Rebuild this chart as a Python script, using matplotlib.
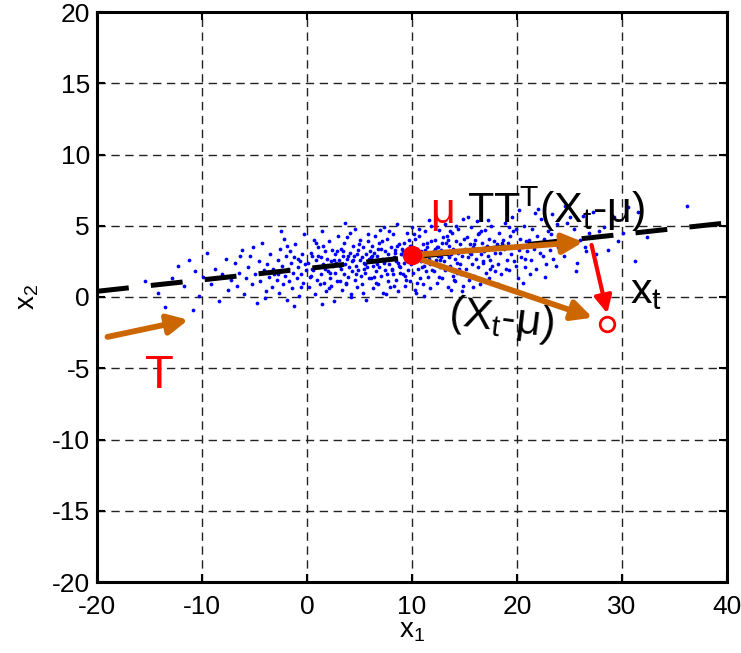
import matplotlib.pyplot as plt

plt.rcParams["font.family"] = ["Liberation Sans Narrow", "Liberation Sans", "DejaVu Sans"]
plt.rcParams["mathtext.fontset"] = "custom"
plt.rcParams["mathtext.rm"] = "Liberation Sans"
plt.rcParams["mathtext.it"] = "Liberation Sans"
plt.rcParams["mathtext.default"] = "regular"
plt.rcParams["lines.scale_dashes"] = False
plt.rcParams["axes.unicode_minus"] = False

# sample cloud (x1, x2), estimated from the picture band by band along x1
cloud = [
    (-15.4, 1.1), (-14.2, 0.3), (-13.5, -0.7), (-12.9, 1.3), (-12.3, 2.2),
    (-11.7, 0.8), (-11.2, 2.6), (-10.7, 1.8), (-10.3, 0.1), (-9.9, 1.4), (-9.5, 3.1), (-9.1, 0.9),
    (-8.8, 2.0), (-8.4, -0.3), (-8.1, 1.6), (-7.7, 2.7), (-7.5, 0.5), (-7.2, 1.2), (-10.9, -0.9),
    (-6.9, 2.4), (-6.7, 0.8), (-6.5, 1.7), (-6.2, 3.3), (-6.0, 0.2), (-5.8, 1.3), (-5.6, 2.1),
    (-5.4, 2.9), (-5.2, 0.9), (-5.0, 1.6), (-4.8, -0.4), (-4.6, 2.5), (-4.5, 1.1), (-4.3, 3.8),
    (-4.1, 1.9), (-3.9, 0.4), (-3.8, 2.3), (-3.6, 1.4), (-3.5, 3.0), (-3.3, 0.7), (-3.2, 2.0),
    (-3.1, 1.6), (-6.4, 2.9), (-5.1, 3.5), (-4.0, -0.1),
    (-2.9, 1.2), (-2.8, 2.6), (-2.7, 0.3), (-2.6, 3.4), (-2.5, 1.8), (-2.4, 2.2), (-2.3, 0.9),
    (-2.2, 4.1), (-2.1, 1.5), (-2.0, 2.9), (-1.9, -0.2), (-1.8, 2.0), (-1.7, 1.1), (-1.6, 3.2),
    (-1.5, 2.4), (-1.4, 0.6), (-1.3, 1.7), (-1.2, 2.8), (-1.1, 3.7), (-1.0, 1.3), (-0.9, 2.1),
    (-0.8, 0.1), (-0.7, 2.5), (-0.6, 1.6), (-0.5, 3.0), (-0.4, 1.0), (-0.3, 4.4), (-0.2, 2.3),
    (-0.1, 1.9), (-2.45, 4.6), (-1.25, -0.6), (-0.55, 0.7), (-1.95, 3.6), (-0.85, 2.7), (-2.75, 1.6),
    (0.1, 2.4), (0.2, 0.7), (0.35, 3.1), (0.4, 1.5), (0.5, 2.9), (0.6, 1.9), (0.7, 4.0), (0.8, 0.2),
    (0.85, 2.6), (0.95, 1.2), (1.0, 3.5), (1.1, 2.1), (1.2, 0.9), (1.3, 2.8), (1.35, 1.6),
    (1.45, 4.6), (1.5, 2.3), (1.6, 1.0), (1.7, 3.2), (1.75, 2.0), (1.85, 0.4), (1.9, 2.7),
    (2.0, 1.8), (2.1, 3.9), (2.15, 1.3), (2.25, 2.5), (2.3, 0.8), (2.4, 3.3), (2.5, 2.2),
    (2.55, -0.3), (2.65, 1.7), (2.7, 3.0), (2.8, 2.4), (2.9, 1.1), (2.95, 4.3), (0.45, 2.0),
    (1.05, 2.9), (1.55, 3.6), (2.05, 0.6), (2.6, 2.6), (0.25, 1.4), (0.9, 3.8), (1.4, -0.5),
    (2.2, 1.7), (2.85, 3.2),
    (3.05, 2.6), (3.1, 1.1), (3.2, 3.4), (3.25, 2.0), (3.35, 0.5), (3.4, 2.9), (3.5, 1.6),
    (3.55, 3.8), (3.65, 2.3), (3.7, 0.9), (3.8, 2.7), (3.85, 4.2), (3.95, 1.4), (4.0, 2.1),
    (4.1, 3.1), (4.15, 0.2), (4.25, 2.5), (4.3, 1.8), (4.4, 3.6), (4.45, 2.9), (4.55, 1.2),
    (4.6, 4.8), (4.7, 2.2), (4.75, 0.7), (4.85, 3.3), (4.9, 1.9), (5.0, 2.6), (5.05, 4.0),
    (5.15, 1.5), (5.2, 2.8), (5.3, 0.3), (5.35, 3.5), (5.45, 2.4), (5.5, 1.7), (5.6, 3.0),
    (5.65, -0.2), (5.75, 2.1), (5.8, 3.9), (5.9, 1.3), (5.95, 2.7), (3.15, 2.2), (3.45, 3.2),
    (3.75, 1.0), (4.05, 4.5), (4.35, 2.6), (4.65, 1.6), (4.95, 3.7), (5.25, 0.9), (5.55, 2.3),
    (5.85, 4.4), (3.6, 5.2), (4.2, 0.0), (4.8, 3.0), (5.4, 2.0), (3.9, 2.9),
    (6.05, 2.8), (6.1, 1.3), (6.2, 3.6), (6.25, 2.2), (6.3, 0.6), (6.4, 3.1), (6.45, 2.5),
    (6.5, 4.3), (6.6, 1.8), (6.65, 2.9), (6.75, 0.9), (6.8, 3.4), (6.9, 2.1), (6.95, 4.7),
    (7.0, 1.5), (7.1, 2.7), (7.15, 3.9), (7.25, 0.3), (7.3, 2.4), (7.4, 3.2), (7.45, 1.9),
    (7.55, 2.6), (7.6, 4.1), (7.7, 1.1), (7.75, 3.0), (7.85, 2.3), (7.9, 0.7), (8.0, 3.5),
    (8.05, 2.0), (8.15, 4.4), (8.2, 1.6), (8.3, 2.8), (8.35, 3.3), (8.45, 1.2), (8.5, 2.5),
    (8.6, 5.1), (8.65, 0.4), (8.75, 3.7), (8.8, 2.2), (8.9, 1.7), (8.95, 3.0), (6.15, 2.9),
    (6.55, 1.0), (6.85, 3.8), (7.2, 2.6), (7.5, 0.2), (7.8, 4.6), (8.1, 1.9), (8.4, 3.1),
    (8.7, 2.4), (6.35, 1.4), (6.7, 2.3), (7.05, 3.4), (7.35, 4.9), (7.65, 1.6), (7.95, 2.7),
    (8.25, 0.8), (8.55, 3.6), (8.85, 2.1), (6.0, 3.2),
    (9.05, 3.0), (9.1, 1.6), (9.2, 3.8), (9.25, 2.4), (9.35, 0.8), (9.4, 3.3), (9.5, 2.7),
    (9.55, 4.5), (9.65, 1.9), (9.7, 3.1), (9.8, 1.1), (9.85, 3.6), (9.95, 2.3), (10.0, 4.9),
    (10.1, 1.7), (10.15, 2.9), (10.25, 4.1), (10.3, 0.5), (10.4, 2.6), (10.45, 3.4), (10.55, 2.0),
    (10.6, 2.8), (10.7, 4.3), (10.75, 1.3), (10.85, 3.2), (10.9, 2.5), (11.0, 0.9), (11.05, 3.7),
    (11.15, 2.2), (11.2, 4.6), (11.3, 1.8), (11.35, 3.0), (11.45, 3.5), (11.5, 1.4), (11.6, 2.7),
    (11.65, 5.4), (11.75, 0.6), (11.8, 3.9), (11.9, 2.4), (11.95, 1.9), (9.15, 3.2), (9.45, 1.2),
    (9.75, 4.0), (10.05, 2.8), (10.35, 0.3), (10.65, 4.8), (10.95, 2.1), (11.25, 3.3), (11.55, 2.6),
    (11.85, 5.0), (9.3, 1.5), (9.6, 2.5), (9.9, 3.6), (10.2, 4.4), (10.5, 1.0), (10.8, 2.9),
    (11.1, 0.1), (11.4, 3.8), (11.7, 2.3), (9.0, 3.4),
    (12.05, 3.2), (12.1, 1.8), (12.2, 4.0), (12.3, 2.6), (12.35, 1.0), (12.45, 3.5), (12.5, 2.9),
    (12.6, 4.7), (12.7, 2.1), (12.75, 3.3), (12.85, 1.3), (12.9, 3.8), (13.0, 2.5), (13.1, 5.1),
    (13.15, 1.9), (13.25, 3.1), (13.3, 4.3), (13.4, 0.7), (13.5, 2.8), (13.55, 3.6), (13.65, 2.2),
    (13.7, 3.0), (13.8, 4.5), (13.9, 1.5), (13.95, 3.4), (14.05, 2.7), (14.1, 1.1), (14.2, 3.9),
    (14.3, 2.4), (14.35, 4.8), (14.45, 2.0), (14.5, 3.2), (14.6, 3.7), (14.7, 1.6), (14.75, 2.9),
    (14.85, 5.5), (14.9, 0.8), (14.95, 4.1), (12.15, 3.4), (12.55, 1.4), (12.95, 4.2), (13.35, 3.0),
    (13.75, 0.5), (14.15, 5.0), (14.55, 2.3), (12.4, 3.5), (12.8, 2.8), (13.2, 3.8), (13.6, 4.6),
    (14.0, 1.2), (14.4, 3.1), (14.8, 0.4), (12.65, 2.6), (13.45, 4.0), (14.25, 1.7),
    (15.05, 3.4), (15.15, 2.0), (15.2, 4.2), (15.3, 2.8), (15.4, 1.2), (15.5, 3.7), (15.55, 3.1),
    (15.65, 4.9), (15.75, 2.3), (15.8, 3.5), (15.9, 1.5), (16.0, 4.0), (16.1, 2.7), (16.15, 5.3),
    (16.25, 2.1), (16.35, 3.3), (16.4, 4.5), (16.5, 0.9), (16.6, 3.0), (16.7, 3.8), (16.75, 2.4),
    (16.85, 3.2), (16.95, 4.7), (17.0, 1.7), (17.1, 3.6), (17.2, 2.9), (17.3, 1.3), (17.35, 4.1),
    (17.45, 2.6), (17.55, 5.0), (17.6, 2.2), (17.7, 3.4), (17.8, 3.9), (17.9, 1.8), (17.95, 3.1),
    (15.35, 5.6), (15.85, 0.7), (16.3, 4.4), (16.8, 2.5), (17.25, 5.4), (17.75, 1.0), (15.6, 3.0),
    (16.55, 4.6), (17.4, 2.0), (15.95, 3.7),
    (18.05, 3.7), (18.15, 2.3), (18.3, 4.5), (18.4, 3.1), (18.5, 1.6), (18.65, 4.0), (18.75, 3.4),
    (18.85, 5.2), (19.0, 2.6), (19.1, 3.8), (19.2, 1.9), (19.35, 4.3), (19.45, 3.0), (19.55, 5.6),
    (19.7, 2.5), (19.8, 3.6), (19.9, 4.8), (20.05, 1.3), (20.15, 3.3), (20.3, 4.1), (20.4, 2.8),
    (20.5, 3.5), (20.65, 5.0), (20.75, 2.1), (20.85, 3.9), (20.95, 3.2), (18.2, 0.9), (18.95, 2.0),
    (19.6, 4.6), (20.2, 6.1), (20.8, 2.7), (18.55, 3.8), (19.25, 4.9), (19.95, 2.2), (20.6, 1.0),
    (21.1, 4.0), (21.3, 2.6), (21.45, 4.8), (21.6, 3.4), (21.8, 2.0), (21.95, 4.3), (22.1, 3.7),
    (22.3, 5.5), (22.45, 2.9), (22.6, 4.1), (22.8, 2.3), (22.95, 4.6), (23.1, 3.3), (23.3, 5.8),
    (23.45, 2.7), (23.6, 3.9), (23.8, 5.1), (23.95, 3.5), (21.2, 1.6), (21.7, 5.9), (22.2, 3.1),
    (22.7, 1.4), (23.2, 4.4), (23.7, 2.2), (22.0, 6.2),
    (24.2, 4.3), (24.5, 2.9), (24.8, 5.2), (25.1, 3.6), (25.4, 4.8), (25.7, 2.4), (26.0, 4.0),
    (26.3, 5.7), (26.6, 3.2), (26.9, 4.5), (27.2, 6.0), (27.5, 3.0), (27.8, 4.6), (24.6, 6.4),
    (25.6, 1.8), (26.5, 3.5), (27.4, 2.5), (25.0, 5.6),
    (28.3, 4.9), (28.7, 3.3), (29.2, 5.6), (29.6, 3.9), (30.1, 4.5), (30.6, 6.3), (31.2, 2.5),
    (31.5, 6.0), (32.4, 4.2), (36.2, 6.4),
]
cloud_x = [p[0] for p in cloud]
cloud_y = [p[1] for p in cloud]

# principal direction through the mean
pc_line_x = [-20, 40]
pc_line_y = [0.4, 5.2]

mu = (10.0, 2.95)
x_t = (28.6, -1.9)
proj_arrow = ((10.0, 2.95), (26.3, 3.86))
diff_arrow = ((10.0, 2.85), (27.2, -1.45))
drop_arrow = ((27.1, 3.65), (28.6, -1.15))
t_arrow = ((-19.0, -2.8), (-11.3, -1.6))

x_ticks = [-20, -10, 0, 10, 20, 30, 40]
y_ticks = [-20, -15, -10, -5, 0, 5, 10, 15, 20]

orange = "#CC6600"
big_font = 31

fig = plt.figure(figsize=(7.41, 6.53), dpi=100)
ax = fig.add_axes((97 / 741, 1 - 582 / 653, 630 / 741, 570 / 653))

ax.set_xlim(-20, 40)
ax.set_ylim(-20, 20)
ax.set_xticks(x_ticks)
ax.set_yticks(y_ticks)
ax.set_axisbelow(True)
ax.grid(True, color="#222222", linestyle=(0, (6, 4)), linewidth=1.0)
ax.tick_params(direction="in", length=6, width=1.5, top=True, right=True,
               labelsize=19, pad=5)
ax.tick_params(axis="x", pad=9)
for s in ax.spines.values():
    s.set_linewidth(2.2)

ax.set_xlabel("x$_1$", fontsize=20, labelpad=0)
ax.set_ylabel("x$_2$", fontsize=20, labelpad=8)

ax.plot(cloud_x, cloud_y, "o", ms=2.7, mew=0, color="blue", zorder=2)
ax.plot(pc_line_x, pc_line_y, color="black", lw=3.6, dashes=(23, 16), zorder=3)


def draw_arrow(start, tip, color, lw, scale):
    ax.annotate(
        "",
        xy=tip,
        xytext=start,
        arrowprops=dict(arrowstyle="-|>", color=color, lw=lw, mutation_scale=scale,
                        shrinkA=0, shrinkB=0),
        zorder=4,
    )


draw_arrow(*proj_arrow, orange, 4.2, 30)
draw_arrow(*diff_arrow, orange, 4.2, 30)
draw_arrow(*t_arrow, orange, 4.2, 30)
draw_arrow(*drop_arrow, "red", 3.0, 26)

ax.plot(*mu, "o", ms=13, color="red", zorder=5)
ax.plot(*x_t, "o", ms=10.5, mfc="white", mec="red", mew=2.0, zorder=5)

txt = dict(family="Liberation Sans", fontsize=big_font, ha="left", va="baseline", zorder=6)
ax.text(11.7, 5.19, "μ", color="red", **txt)
ax.text(15.2, 5.19, "TT$^T$(X$_t$-μ)", color="black", **txt)
ax.text(13.4, -1.9, "(X$_t$-μ)", color="black", rotation=-7, rotation_mode="anchor", **txt)
ax.text(30.8, -0.42, "x$_t$", color="black", **txt)
ax.text(-15.4, -6.4, "T", color="red", **{**txt, "fontsize": 34})

fig.savefig("out.png", dpi=100)
